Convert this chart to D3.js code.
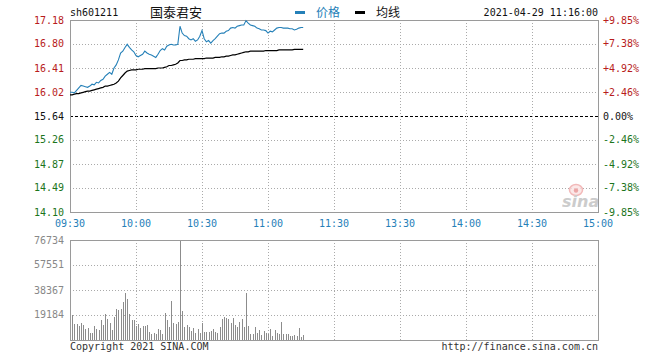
<!DOCTYPE html>
<html>
<head>
<meta charset="utf-8">
<script src="https://cdn.jsdelivr.net/npm/d3@7"></script>
<style>
  body { margin: 0; background: #fff; }
  svg { display: block; }
</style>
</head>
<body>
<div id="chart"></div>
<script>
// minute-by-minute intraday data, 09:30 -> 11:16
const stockCode = "sh601211";
const stockName = "国泰君安";
const stampText = "2021-04-29 11:16:00";
const preClose = 15.64;

const prices = [
  16.02, 16.02, 16.01, 16.05, 16.09, 16.13, 16.12, 16.11, 16.10, 16.12,
  16.15, 16.14, 16.18, 16.17, 16.21, 16.23, 16.28, 16.31, 16.34, 16.31,
  16.41, 16.46, 16.54, 16.65, 16.68, 16.74, 16.79, 16.74, 16.70, 16.67,
  16.61, 16.59, 16.61, 16.63, 16.68, 16.65, 16.63, 16.62, 16.60, 16.58,
  16.63, 16.69, 16.72, 16.70, 16.76, 16.78, 16.79, 16.78, 16.78, 16.79,
  17.08, 16.97, 16.93, 16.92, 16.88, 16.86, 16.88, 16.84, 16.86, 16.92,
  17.01, 16.88, 16.83, 16.85, 16.81, 16.85, 16.88, 16.92, 16.96, 16.97,
  16.97, 17.00, 17.01, 17.05, 17.06, 17.05, 17.08, 17.09, 17.10, 17.10,
  17.17, 17.13, 17.10, 17.09, 17.08, 17.05, 17.04, 17.02, 17.02, 17.01,
  16.97, 17.00, 16.99, 17.02, 17.05, 17.06, 17.06, 17.05, 17.05, 17.05,
  17.04, 17.04, 17.02, 17.03, 17.05, 17.06, 17.06
];

const avgPrices = [
  15.98, 15.98, 15.99, 16.00, 16.00, 16.01, 16.02, 16.03, 16.04, 16.04,
  16.05, 16.06, 16.07, 16.08, 16.09, 16.10, 16.12, 16.12, 16.13, 16.14,
  16.15, 16.17, 16.20, 16.25, 16.29, 16.33, 16.36, 16.37, 16.38, 16.38,
  16.38, 16.39, 16.39, 16.39, 16.40, 16.40, 16.40, 16.40, 16.40, 16.40,
  16.41, 16.41, 16.41, 16.42, 16.43, 16.45, 16.45, 16.46, 16.47, 16.49,
  16.53, 16.53, 16.54, 16.54, 16.55, 16.55, 16.55, 16.56, 16.56, 16.56,
  16.56, 16.56, 16.57, 16.57, 16.57, 16.57, 16.58, 16.58, 16.58, 16.59,
  16.59, 16.60, 16.60, 16.61, 16.62, 16.62, 16.63, 16.64, 16.65, 16.66,
  16.67, 16.67, 16.68, 16.68, 16.68, 16.68, 16.68, 16.68, 16.68, 16.69,
  16.69, 16.69, 16.69, 16.69, 16.69, 16.70, 16.70, 16.70, 16.70, 16.70,
  16.70, 16.70, 16.71, 16.71, 16.71, 16.71, 16.71
];

const volumes = [
  29200, 18900, 12000, 12000, 10700, 12800, 11300, 8700, 9500, 5600,
  5600, 10700, 8700, 7700, 15300, 11500, 19700, 15900, 13300, 7700,
  17600, 23500, 22800, 23500, 29400, 35800, 31700, 19700, 15300, 15300,
  10700, 12000, 9500, 10700, 10700, 11300, 6100, 4300, 5100, 4300,
  8200, 7700, 4300, 20500, 15300, 10000, 29900, 12800, 12000, 13800,
  76734, 22300, 10200, 11300, 10200, 6900, 9000, 5600, 8200, 5100,
  13300, 6100, 6100, 6100, 6900, 8700, 6100, 5100, 10200, 15900,
  17600, 17100, 16400, 13300, 16600, 11500, 10000, 13800, 15900, 10000,
  35800, 10700, 4300, 4300, 10000, 5100, 7700, 3800, 6900, 5100,
  4300, 8700, 3100, 7700, 5600, 4300, 13800, 4300, 4300, 4300,
  3100, 3100, 3800, 3100, 9500, 2600, 3800
];

const priceTicks = [17.18, 16.80, 16.41, 16.02, 15.64, 15.26, 14.87, 14.49, 14.10];
const pctLabels = ["+9.85%", "+7.38%", "+4.92%", "+2.46%", "0.00%", "-2.46%", "-4.92%", "-7.38%", "-9.85%"];
const volTicks = [76734, 57551, 38367, 19184];
const timeTicks = [0, 30, 60, 90, 120, 150, 180, 210, 240];
const timeLabels = ["09:30", "10:00", "10:30", "11:00", "11:30", "13:30", "14:00", "14:30", "15:00"];

const W = 660, H = 360;
const left = 70, right = 598;
const pTop = 20, pBottom = 212;
const vTop = 240, vBottom = 340;

const mono = "'DejaVu Sans Mono', 'Liberation Mono', monospace";
const cjk = "'Noto Sans CJK SC', sans-serif";
const red = "#b81c1c", green = "#1c751c", blue = "#2580b8";
const gridColor = "#aaaaaa", frameColor = "#9a9a9a";

const svg = d3.select("#chart").append("svg")
  .attr("width", W)
  .attr("height", H);

const x = d3.scaleLinear().domain([0, 240]).range([left, right]);
const y = d3.scaleLinear().domain([14.10, 17.18]).range([pBottom, pTop]);
const yv = d3.scaleLinear().domain([0, 76734]).range([vBottom, vTop]);

const crisp = v => Math.round(v) + 0.5;

// ---------- header ----------
svg.append("text")
  .attr("x", left).attr("y", 16)
  .attr("font-family", mono).attr("font-size", 10)
  .attr("fill", "#111")
  .text(stockCode);

svg.append("text")
  .attr("x", 150).attr("y", 17)
  .attr("font-family", cjk).attr("font-size", 13)
  .attr("fill", "#111")
  .text(stockName);

const legend = [
  { label: "价格", color: blue, x: 295, textColor: blue },
  { label: "均线", color: "#000", x: 355, textColor: "#111" }
];
legend.forEach(d => {
  svg.append("rect")
    .attr("x", d.x).attr("y", 11)
    .attr("width", 10).attr("height", 3)
    .attr("fill", d.color);
  svg.append("text")
    .attr("x", d.x + 21).attr("y", 17)
    .attr("font-family", cjk).attr("font-size", 12)
    .attr("fill", d.textColor)
    .text(d.label);
});

svg.append("text")
  .attr("x", right).attr("y", 16)
  .attr("text-anchor", "end")
  .attr("font-family", mono).attr("font-size", 10)
  .attr("fill", "#111")
  .text(stampText);

// ---------- price panel grid ----------
const pg = svg.append("g");

priceTicks.forEach((t, i) => {
  const yy = crisp(y(t));
  const isMid = i === 4;
  if (i > 0 && i < priceTicks.length - 1) {
    pg.append("line")
      .attr("x1", left).attr("x2", right)
      .attr("y1", yy).attr("y2", yy)
      .attr("stroke", isMid ? "#000" : gridColor)
      .attr("stroke-dasharray", isMid ? "3,2" : "1,2");
  }
  const col = i < 4 ? red : (isMid ? "#111" : green);
  pg.append("text")
    .attr("x", 64).attr("y", y(t))
    .attr("dy", "0.35em")
    .attr("text-anchor", "end")
    .attr("font-family", mono).attr("font-size", 10)
    .attr("fill", col)
    .text(t.toFixed(2));
  pg.append("text")
    .attr("x", 603).attr("y", y(t))
    .attr("dy", "0.35em")
    .attr("font-family", mono).attr("font-size", 10)
    .attr("fill", col)
    .text(pctLabels[i]);
});

timeTicks.forEach((t, i) => {
  if (i > 0 && i < timeTicks.length - 1) {
    pg.append("line")
      .attr("x1", crisp(x(t))).attr("x2", crisp(x(t)))
      .attr("y1", pTop).attr("y2", pBottom)
      .attr("stroke", gridColor)
      .attr("stroke-dasharray", "1,2");
  }
  pg.append("text")
    .attr("x", x(t)).attr("y", 223)
    .attr("dy", "0.35em")
    .attr("text-anchor", "middle")
    .attr("font-family", mono).attr("font-size", 10)
    .attr("fill", blue)
    .text(timeLabels[i]);
});

// sina watermark
const wm = svg.append("g").attr("opacity", 0.8);
wm.append("ellipse")
  .attr("cx", 576).attr("cy", 190)
  .attr("rx", 6.5).attr("ry", 5.5)
  .attr("fill", "#fbe3e3")
  .attr("stroke", "#f0a8a8").attr("stroke-width", 1.5);
wm.append("circle")
  .attr("cx", 576).attr("cy", 190.5).attr("r", 2.2)
  .attr("fill", "#e89090");
wm.append("text")
  .attr("x", 562).attr("y", 207)
  .attr("font-family", "'DejaVu Sans', sans-serif")
  .attr("font-size", 16).attr("font-weight", "bold")
  .attr("font-style", "italic")
  .attr("fill", "#c0c0c0")
  .text("sina");

// frame
svg.append("rect")
  .attr("x", left + 0.5).attr("y", pTop + 0.5)
  .attr("width", right - left).attr("height", pBottom - pTop)
  .attr("fill", "none")
  .attr("stroke", frameColor);

// ---------- lines ----------
const line = d3.line()
  .x((d, i) => x(i))
  .y(d => y(d));

svg.append("path")
  .datum(avgPrices)
  .attr("d", line)
  .attr("fill", "none")
  .attr("stroke", "#000")
  .attr("stroke-width", 1.2);

svg.append("path")
  .datum(prices)
  .attr("d", line)
  .attr("fill", "none")
  .attr("stroke", blue)
  .attr("stroke-width", 1.1);

// ---------- volume panel ----------
const vg = svg.append("g");

volTicks.forEach((t, i) => {
  if (i > 0) {
    vg.append("line")
      .attr("x1", left).attr("x2", right)
      .attr("y1", crisp(yv(t))).attr("y2", crisp(yv(t)))
      .attr("stroke", gridColor)
      .attr("stroke-dasharray", "1,2");
  }
  vg.append("text")
    .attr("x", 64).attr("y", yv(t))
    .attr("dy", "0.35em")
    .attr("text-anchor", "end")
    .attr("font-family", mono).attr("font-size", 10)
    .attr("fill", "#888")
    .text(t);
});

timeTicks.slice(1, -1).forEach(t => {
  vg.append("line")
    .attr("x1", crisp(x(t))).attr("x2", crisp(x(t)))
    .attr("y1", vTop).attr("y2", vBottom)
    .attr("stroke", gridColor)
    .attr("stroke-dasharray", "1,2");
});

vg.selectAll(".vbar")
  .data(volumes)
  .enter()
  .append("rect")
  .attr("class", "vbar")
  .attr("x", (d, i) => Math.round(x(i)))
  .attr("y", d => Math.round(yv(d)))
  .attr("width", 1)
  .attr("height", d => vBottom - Math.round(yv(d)))
  .attr("fill", "#8c8c8c");

vg.append("rect")
  .attr("x", left + 0.5).attr("y", vTop + 0.5)
  .attr("width", right - left).attr("height", vBottom - vTop)
  .attr("fill", "none")
  .attr("stroke", frameColor);

// ---------- footer ----------
svg.append("text")
  .attr("x", left).attr("y", 350)
  .attr("font-family", mono).attr("font-size", 10)
  .attr("fill", "#333")
  .text("Copyright 2021 SINA.COM");

svg.append("text")
  .attr("x", right).attr("y", 350)
  .attr("text-anchor", "end")
  .attr("font-family", mono).attr("font-size", 10)
  .attr("fill", "#333")
  .text("http://finance.sina.com.cn");
</script>
</body>
</html>
